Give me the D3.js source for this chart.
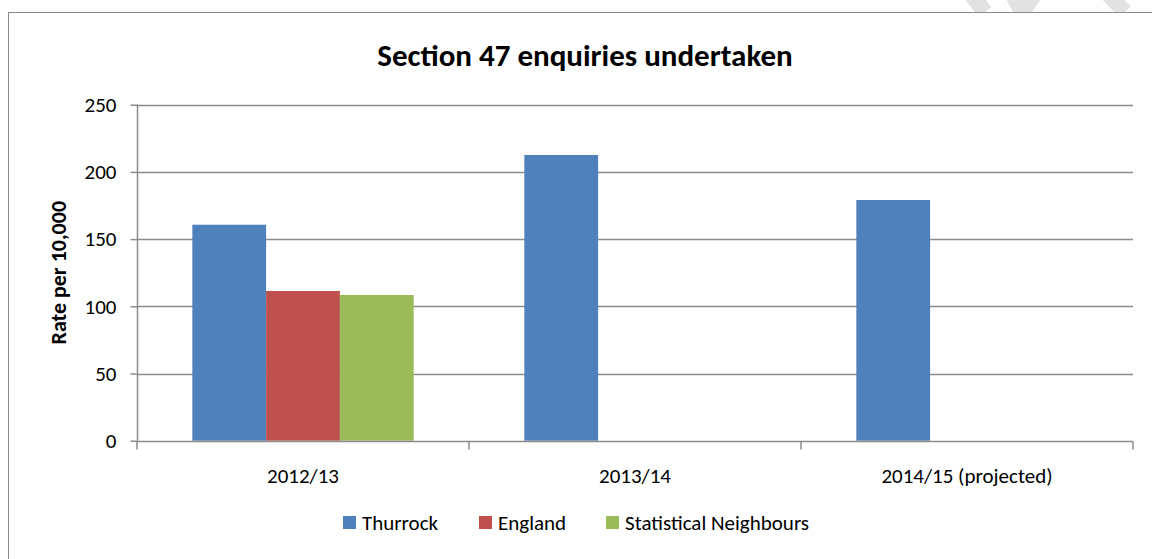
<!DOCTYPE html>
<html><head><meta charset="utf-8">
<script src="https://cdn.jsdelivr.net/npm/d3@7"></script>
<style>body{margin:0;background:#fff;}svg{display:block;font-family:Carlito,"Liberation Sans",Arial,sans-serif;}</style>
</head><body>
<svg id="c" width="1152" height="559"></svg>
<script>
const title = "Section 47 enquiries undertaken";
const yAxisTitle = "Rate per 10,000";
const categories = ["2012/13", "2013/14", "2014/15 (projected)"];
const seriesNames = ["Thurrock", "England", "Statistical Neighbours"];
const seriesColors = ["#4F81BD", "#C0504D", "#9BBB59"];
const thurrock = [160.7, 212.6, 179.1];
const england = [111.4, null, null];
const statNeighbours = [108.4, null, null];
const yTicks = [0, 50, 100, 150, 200, 250];

const series = [thurrock, england, statNeighbours];
const svg = d3.select("#c");

// watermark fragments (light grey) above the frame
const wm = svg.append("g").attr("stroke", "#e2e2e2").attr("stroke-width", 16).attr("fill", "none");
wm.append("line").attr("x1", 960).attr("y1", -20).attr("x2", 985).attr("y2", 12);
wm.append("polyline").attr("points", "1005,-20 1022,12 1045,-20");
wm.append("line").attr("x1", 1095).attr("y1", -20).attr("x2", 1125).attr("y2", 12);

// outer frame
svg.append("rect").attr("x", 8.5).attr("y", 12.5).attr("width", 1200).attr("height", 600)
  .attr("fill", "#fff").attr("stroke", "#888").attr("stroke-width", 1);

const m = {left: 137, right: 1133, top: 104.7, bottom: 440.7};
const x0 = d3.scaleBand().domain(categories).range([m.left, m.right]).paddingInner(0).paddingOuter(0);
const groupW = x0.bandwidth() / (1 + 1.5/3);
const x1 = d3.scaleBand().domain(d3.range(series.length)).range([0, groupW]).padding(0);
const y = d3.scaleLinear().domain([0, 250]).range([m.bottom, m.top]);

const FS = 21;

// gridlines
svg.append("g").selectAll("line").data(yTicks.filter(d => d > 0)).join("line")
  .attr("x1", m.left).attr("x2", m.right)
  .attr("y1", d => Math.round(y(d)) + 0.5).attr("y2", d => Math.round(y(d)) + 0.5)
  .attr("stroke", "#8c8c8c").attr("stroke-width", 1.5);

// bars
const gBars = svg.append("g");
categories.forEach((c, ci) => {
  series.forEach((s, si) => {
    const v = s[ci];
    if (v == null) return;
    const bx = x0(c) + (x0.bandwidth() - groupW) / 2 + x1(si);
    gBars.append("rect")
      .attr("x", bx).attr("width", x1.bandwidth())
      .attr("y", y(v)).attr("height", y(0) - y(v))
      .attr("fill", seriesColors[si]);
  });
});

// y axis
const yAxis = d3.axisLeft(y).tickValues(yTicks).tickSize(7).tickPadding(14);
const gy = svg.append("g").attr("transform", `translate(${m.left + 0.5},0)`).call(yAxis)
  .attr("font-family", null).attr("font-size", FS);
gy.selectAll("path,line").attr("stroke", "#8c8c8c").attr("stroke-width", 1.5);
gy.select(".domain").attr("d", `M0,${m.top}V${m.bottom}`);
gy.selectAll("text").attr("fill", "#000");

// x axis
const gx = svg.append("g").attr("transform", `translate(0,${Math.round(m.bottom) + 0.5})`);
gx.append("line").attr("x1", m.left).attr("x2", m.right).attr("stroke", "#8c8c8c").attr("stroke-width", 1.5);
const bounds = categories.map(c => x0(c)).concat([m.right]);
gx.selectAll("line.t").data(bounds).join("line").attr("class", "t")
  .attr("x1", d => d).attr("x2", d => d).attr("y1", 0).attr("y2", 8)
  .attr("stroke", "#8c8c8c").attr("stroke-width", 1.5);
gx.selectAll("text").data(categories).join("text")
  .attr("x", d => x0(d) + x0.bandwidth() / 2).attr("y", 41)
  .attr("text-anchor", "middle").attr("font-size", FS).text(d => d);

// title
svg.append("text").attr("x", 585).attr("y", 66).attr("text-anchor", "middle")
  .attr("font-size", 31).attr("font-weight", "bold").text(title);

// y axis title
svg.append("text").attr("transform", `translate(66,${(m.top + m.bottom) / 2}) rotate(-90)`)
  .attr("text-anchor", "middle").attr("font-size", 22).attr("font-weight", "bold").text(yAxisTitle);

// legend
const legendX = [343, 479, 606];
const lg = svg.append("g");
seriesNames.forEach((n, i) => {
  lg.append("rect").attr("x", legendX[i]).attr("y", 516).attr("width", 13).attr("height", 13).attr("fill", seriesColors[i]);
  lg.append("text").attr("x", legendX[i] + 19).attr("y", 530).attr("font-size", FS).text(n);
});
</script>
</body></html>
